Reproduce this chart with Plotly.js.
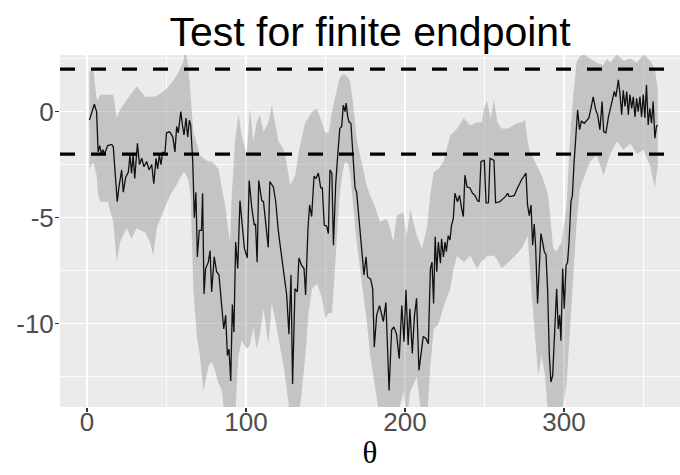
<!DOCTYPE html>
<html><head><meta charset="utf-8">
<script src="https://cdn.plot.ly/plotly-3.0.1.min.js"></script>
<style>html,body{margin:0;padding:0;background:#fff}#chart{width:680px;height:475px}</style>
</head><body><div id="chart"></div><script>
// Estimated statistic along theta (degrees)
const theta = [1.5,4.6,6,7,8,9,10,11,13,15.5,16.5,17.6,19,20,21.8,22.8,24.3,26,27,28,29,30,31.7,33,34.4,35.8,37.5,39,40.7,42,43.4,44.4,45.5,46.5,47.6,49,50,52,54,55.3,56.4,57.4,59,60,61,62.3,63.3,64.4,65.2,66.5,67.5,68.5,69.4,70.6,72,72.7,73.6,74.6,76.3,
77.4,78.4,80,81.5,83,84.7,86,87.2,88.3,89.3,90.4,91.4,92.4,93.5,94.8,96.2,97.7,99,100.8,102,103.6,105.2,106,107,108,109.9,111,112.6,114,115,117.2,118.7,120.3,122,123.5,124.5,125.6,127,128.3,129.3,130.8,132.3,133.3,135,136.5,137.5,139,140,141.3,142.8,144,145.5,147,148,149.2,150.7,151.8,152.8,154,155,156.4,157.7,159,160.2,161.2,162.3,163,164,164.9,166,167.3,168.6,
169.6,170.7,171.7,172.7,174.2,175.5,176.5,178.4,179.7,180.7,182.2,184,185.3,186.4,188,189,190,191.6,193,194.7,196.4,198,199.4,200.6,202,203.1,204.6,206,207.3,208.8,210,211.5,213.2,214.7,216,217,218,219,220,221,222.3,223,224.2,225.2,226,227.2,228.3,229.3,230.4,231.4,233,234.3,235.6,236.7,237.7,239,240.9,242.5,244,245.7,246.7,247.8,249.9,251,252.5,253.5,256,257,259.7,
261.8,263.3,264.6,265.4,267,268.8,270.2,271.7,273.4,274.8,276.1,277.1,278.2,279.3,280.3,281.3,282.2,283.4,284.5,285.5,286.6,287.6,288.7,289.7,290.8,291.8,292.9,294,295.4,296.4,297.3,298.1,299.2,300.2,301.3,302.3,303.2,304.4,305.3,306.3,307.3,308.6,309.8,311,312.8,314.2,315.7,317,318.4,320,321.2,322.6,324,325,326.4,328,329.1,330.4,331.7,332.7,334.2,335.3,336.3,337.3,338.4,339.5,340.5,341.5,342.6,343.6,344.7,345.7,346.7,347.8,348.8,349.9,350.9,351.9,353,354,355.1,356.1,357.2,358.2,358.9];
const estimate = [-0.4,0.35,0,-1.9,-1.6,-2.0,-1.8,-2.0,-1.6,-1.55,-1.65,-2.7,-4.25,-3.6,-2.75,-3.8,-3.1,-2.85,-2.05,-2.9,-2.05,-3.15,-1.5,-2.5,-2.2,-2.6,-2.35,-2.75,-2.5,-3.4,-2.2,-2.7,-2.05,-2.5,-1.9,-2.0,-1.0,-0.95,-1.2,-1.9,-0.7,-1.0,0,-0.63,-1.1,-0.3,-1.2,-0.4,-0.63,-2.35,-5.0,-3.8,-6.85,-5.6,-5.6,-3.85,-8.6,-7.4,-7.1,
-6.55,-8.5,-6.85,-7.55,-7.7,-9.3,-10.25,-9.6,-11.5,-11.2,-12.7,-9.1,-10.4,-6.15,-7.4,-4.2,-5.5,-6.45,-6.9,-3.25,-4.5,-5.35,-5.3,-7.1,-3.25,-4.2,-4.25,-5.6,-6.4,-3.3,-3.55,-4.25,-5.6,-6.6,-7.4,-7.9,-8.65,-10.5,-7.7,-12.85,-8.35,-8.5,-6.9,-7.25,-7.4,-8.65,-5.5,-4.4,-4.95,-3.05,-3.15,-2.9,-3.6,-3.6,-5.35,-5.4,-5.75,-2.75,-2.9,-6.3,-3.45,-2.05,-0.8,-0.7,0.3,0,0.4,-0.25,-0.5,-0.55,-2.05,-3.6,
-3.8,-4.7,-5.85,-6.6,-7.7,-6.85,-7.8,-7.9,-8.35,-11.1,-9.6,-9.15,-9.6,-9.9,-9.0,-11.2,-13.15,-10.3,-10.15,-10.5,-11.65,-9.15,-10.85,-8.4,-11.0,-9.3,-11.4,-9.6,-8.8,-12.2,-11.35,-10.6,-10.7,-10.95,-7.4,-7.1,-9.05,-5.9,-7.55,-6.15,-7.15,-6.0,-6.85,-6.15,-6.6,-5.85,-6.05,-5.35,-5.05,-3.85,-4.25,-3.95,-4.55,-4.95,-3.0,-3.55,-3.6,-3.85,-3.95,-4.2,-4.25,-2.35,-2.3,-4.3,-4.3,-2.2,-2.3,-4.3,-4.25,
-4.1,-4.0,-3.85,-4.0,-4.0,-3.95,-3.7,-3.45,-3.2,-3.05,-2.9,-4.4,-4.9,-4.4,-6.3,-5.3,-6.4,-9.05,-6.9,-5.75,-6.15,-6.6,-6.75,-8.35,-11.5,-12.75,-12.45,-10.7,-8.35,-10.25,-9.6,-10.8,-7.4,-9.3,-7.25,-7.1,-6.15,-4.25,-3.95,-2.5,-1.25,0.08,-0.85,-0.45,-0.55,-0.45,-0.3,0.15,0.7,0.08,-0.15,-0.85,0.47,-0.95,-1.0,-0.25,0.15,0.63,0.95,0.7,1.5,0.8,-0.15,1.0,0.25,0.95,-0.15,0.8,0.15,0.7,-0.25,0.63,0,0.7,-0.25,0.8,-0.3,1.25,-0.63,0.15,-0.55,0.47,-1.25,-0.7,-0.63];

// Uncertainty band
const bandTheta = [1.5,4,6,7,8.5,13,16.5,18.7,20.8,24.9,28,31.2,36.5,39.6,41.7,43.8,48,52.2,56.4,60.6,61.6,63.7,65.2,66.9,69,71,73.2,75,76.4,78.4,80.5,82.6,84.7,86.8,89.9,91,93.1,95.2,97.3,100.4,102.5,104.6,106.7,108.8,111,114.1,116.2,118.3,120.4,123.6,125.7,127.8,131,133.1,135.2,137.3,139.4,141.5,144.7,147.8,149.9,152,154.1,156.4,158.9,160.8,162.3,164.4,165.5,167.5,169.6,171.7,173.8,176,178.1,181.2,184.3,188.5,190.6,192.7,194.8,199,201.1,203.3,207.5,210.6,213.8,215.9,218,221.2,224.3,228.5,230.6,232.7,236.9,241.1,245.4,248.5,249.6,251.7,253.9,256,258.1,260.8,265,269.2,273.4,275.5,277.2,278.6,281.7,283.8,286,288.1,290.1,293.3,295.4,298.5,301.7,303.8,305.9,308,310.1,312.2,316.4,320.6,324.9,327,329.1,333.3,337.5,341.7,345.9,350.1,354.3,357.2,359];
const bandUpper = [1.9,2.0,0.6,0.6,0.8,0.8,0.8,-0.3,0.1,0.55,0.9,1.2,0.7,0.7,0.7,0.75,0.95,1.25,1.7,2.35,3,2.2,0.8,-0.95,-1.5,-2.05,-2.2,-2.3,-2.35,-2.35,-2.5,-2.7,-3.5,-4.4,-6.15,-4.0,-1.4,-0.15,-1.1,-2.05,0.15,-1.4,-0.5,-0.15,-0.95,-0.5,0.3,-0.5,-1.4,-1.75,-2.5,-3.5,-3.0,-1.9,-1.2,-0.5,-0.3,0,0.15,-0.5,-1.0,-1.0,0.0,0.8,1.6,1.75,1.75,1.6,1.4,0.3,-1.25,-2.05,-2.7,-3.5,-3.95,-4.5,-5.2,-5.05,-5.5,-6.15,-4.9,-4.75,-5.85,-4.6,-5.85,-6.45,-5.5,-3.95,-2.85,-2.7,-2.35,-1.1,-1.0,-0.8,-0.3,-0.65,-0.5,-0.5,0.15,0.5,-0.3,0.55,-0.5,-0.8,-0.8,-0.6,-0.5,-0.4,-1.4,-1.9,-2.35,-2.7,-3.0,-3.5,-3.95,-6.45,-6.6,-6.15,-4.4,-1.25,0.8,2.35,2.6,2.7,2.5,2.3,2.2,2.5,2.3,2.7,2.4,2.5,2.3,2.7,2.4,2.0,1.1];
const bandLower = [-2.7,-2.4,-3.0,-3.95,-4.25,-4.25,-5.2,-7.1,-6.15,-5.5,-6.0,-5.5,-5.7,-6.15,-6.8,-5.5,-4.7,-3.95,-3.45,-2.85,-2.9,-3.2,-3.95,-8.35,-10.55,-11.5,-13.2,-12.5,-12.0,-11.8,-12.2,-12.8,-13.1,-14.5,-14.5,-14.5,-14.5,-11.5,-10.8,-11.2,-11.0,-10.2,-11.2,-10.5,-9.3,-11.0,-9.0,-9.8,-10.6,-12.0,-13.1,-14.5,-14.5,-14.5,-13.1,-11.5,-9.45,-8.35,-8.1,-8.8,-9.75,-9.5,-9.5,-6.8,-3.95,-2.85,-2.35,-2.5,-2.85,-4.5,-6.15,-7.4,-8.5,-9.9,-11.5,-13.1,-14.5,-14.5,-14.5,-14.5,-14.5,-13.2,-14.5,-13.2,-12.5,-14.5,-14.5,-12.1,-10.25,-10.0,-9.2,-8.35,-7.4,-6.8,-7.1,-6.8,-7.4,-7.0,-7.0,-6.8,-6.8,-6.8,-7.0,-7.4,-7.1,-6.8,-6.45,-6.1,-5.85,-7.5,-10.7,-12.45,-11.5,-12.45,-14.5,-14.5,-14.5,-14.5,-12.8,-10.25,-7.4,-5.2,-3.6,-3.15,-2.35,-2.05,-3.0,-2.5,-2.0,-1.4,-1.8,-1.5,-2.0,-1.8,-2.6,-3.6,-2.5];

const thresholds = [2, -2];
const xTickVals = [0, 100, 200, 300];
const xTickText = ['0', '100', '200', '300'];
const xMinorVals = [50, 150, 250, 350];
const yTickVals = [0, -5, -10];
const yTickText = ['0', '-5', '-10'];
const yMinorVals = [2.5, -2.5, -7.5, -12.5];

const traces = [
  {x: bandTheta, y: bandLower, type: 'scatter', mode: 'lines', line: {width: 0, color: 'rgba(0,0,0,0)'}, hoverinfo: 'skip', showlegend: false},
  {x: bandTheta, y: bandUpper, type: 'scatter', mode: 'lines', fill: 'tonexty', fillcolor: 'rgba(128,128,128,0.36)', line: {width: 0, color: 'rgba(0,0,0,0)'}, hoverinfo: 'skip', showlegend: false},
  {x: theta, y: estimate, type: 'scatter', mode: 'lines', line: {color: '#111111', width: 1.3}, showlegend: false}
];

const shapes = thresholds.map(v => ({
  type: 'line', xref: 'paper', x0: 0, x1: 1, yref: 'y', y0: v, y1: v,
  line: {color: '#000000', width: 3.2, dash: '15px,16px'}, layer: 'above'
}));

const axisTickFont = {family: 'Liberation Sans, Arial, sans-serif', size: 26, color: '#4d4d4d'};

const layout = {
  width: 680, height: 475, autosize: false,
  margin: {l: 60, r: 0, t: 55, b: 68},
  paper_bgcolor: '#ffffff', plot_bgcolor: '#ebebeb',
  showlegend: false,
  title: {text: 'Test for finite endpoint', x: 0.5, xref: 'paper', xanchor: 'center',
          y: 1, yref: 'paper', yanchor: 'bottom', pad: {b: 9},
          font: {family: 'Liberation Sans, Arial, sans-serif', size: 41, color: '#000000'}},
  xaxis: {range: [-17, 373], tickmode: 'array', tickvals: xTickVals, ticktext: xTickText,
          showgrid: true, gridcolor: '#ffffff', gridwidth: 1.6, zeroline: false, showline: false,
          ticks: 'outside', ticklen: 4, tickwidth: 1.2, tickcolor: '#333333',
          tickfont: axisTickFont, ticklabelstandoff: -12,
          minor: {tickmode: 'array', tickvals: xMinorVals, showgrid: true, gridcolor: '#ffffff', gridwidth: 0.8, ticks: ''},
          title: {text: 'θ', font: {family: 'Liberation Serif, Times New Roman, serif', size: 31, color: '#000000'}, standoff: 5}},
  yaxis: {range: [-13.93, 2.67], tickmode: 'array', tickvals: yTickVals, ticktext: yTickText,
          showgrid: true, gridcolor: '#ffffff', gridwidth: 1.6, zeroline: false, showline: false,
          ticks: 'outside', ticklen: 4, tickwidth: 1.2, tickcolor: '#333333',
          tickfont: axisTickFont, ticklabelstandoff: -4,
          minor: {tickmode: 'array', tickvals: yMinorVals, showgrid: true, gridcolor: '#ffffff', gridwidth: 0.8, ticks: ''}},
  shapes: shapes
};

Plotly.newPlot('chart', traces, layout, {displayModeBar: false, staticPlot: true});
</script></body></html>
